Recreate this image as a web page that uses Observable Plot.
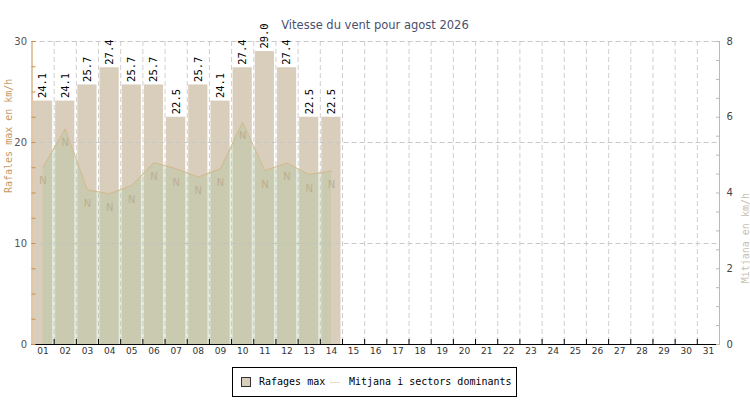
<!DOCTYPE html>
<html>
<head>
<meta charset="utf-8">
<script src="https://cdn.jsdelivr.net/npm/d3@7"></script>
<script src="https://cdn.jsdelivr.net/npm/@observablehq/plot@0.6"></script>
<style>
  body { margin: 0; background: #fff; }
  #wrap { position: relative; width: 750px; height: 400px; overflow: hidden; background: #fff; }
  #chart { position: absolute; left: 0; top: 0; }
  #title { position: absolute; left: 0; top: 18px; width: 750px; text-align: center;
           font: 11.5px "DejaVu Sans", sans-serif; color: #4a5070; }
  #legend { position: absolute; left: 232px; top: 367px; width: 285px; height: 30px;
            border: 1px solid #000; box-sizing: border-box; background: #fff;
            font: 10px "DejaVu Sans Mono", monospace; color: #000; }
  #legend .sw { position: absolute; left: 8px; top: 9px; width: 10px; height: 10px;
                box-sizing: border-box; background: #d9cdbb; border: 1px solid #333; }
  #legend .ln { position: absolute; left: 97px; top: 14px; width: 10px; height: 1px; background: #e6dcc2; }
  #legend .t1 { position: absolute; left: 26px; top: 8px; }
  #legend .t2 { position: absolute; left: 116px; top: 8px; }
</style>
</head>
<body>
<div id="wrap">
  <div id="chart"></div>
  <div id="title">Vitesse du vent pour agost 2026</div>
  <div id="legend">
    <span class="sw"></span><span class="t1">Rafages max</span>
    <span class="ln"></span><span class="t2">Mitjana i sectors dominants</span>
  </div>
</div>
<script>
// ---- data ----
const days = [1,2,3,4,5,6,7,8,9,10,11,12,13,14,15,16,17,18,19,20,21,22,23,24,25,26,27,28,29,30,31];
const dayLabels = ["01","02","03","04","05","06","07","08","09","10","11","12","13","14","15","16",
                   "17","18","19","20","21","22","23","24","25","26","27","28","29","30","31"];
const gusts = [24.1, 24.1, 25.7, 27.4, 25.7, 25.7, 22.5, 25.7, 24.1, 27.4, 29.0, 27.4, 22.5, 22.5];
const means = [4.68, 5.69, 4.08, 3.98, 4.20, 4.80, 4.64, 4.42, 4.64, 5.87, 4.59, 4.79, 4.49, 4.58];
const sectors = ["N","N","N","N","N","N","N","N","N","N","N","N","N","N"];
const leftTicks = [0, 10, 20, 30];
const leftMinorTicks = [0, 2.5, 5, 7.5, 10, 12.5, 15, 17.5, 20, 22.5, 25, 27.5, 30];
const rightTicks = [0, 2, 4, 6, 8];
const rightMinorTicks = [0, 0.5, 1, 1.5, 2, 2.5, 3, 3.5, 4, 4.5, 5, 5.5, 6, 6.5, 7, 7.5, 8];
const leftMax = 30, rightMax = 8;
const k = leftMax / rightMax; // right axis -> left axis units

const barData = gusts.map((g, i) => ({day: days[i], gust: g}));
const meanData = means.map((m, i) => ({day: days[i], mean: m, sector: sectors[i]}));
const bounds = days.slice(1).map(d => d - 0.5); // interior day boundaries

const mono = "DejaVu Sans Mono, monospace";
const sans = "DejaVu Sans, sans-serif";

const chart = Plot.plot({
  width: 750,
  height: 364,
  marginLeft: 31.5,
  marginRight: 31,
  marginTop: 41,
  marginBottom: 20,
  style: {background: "transparent", overflow: "visible"},
  x: {type: "linear", domain: [0.5, 31.5]},
  y: {domain: [0, leftMax]},
  marks: [
    Plot.ruleX(bounds, {stroke: "#cfcfcf", strokeDasharray: "5,3"}),
    Plot.rectY(barData, {x1: d => d.day - 0.5, x2: d => d.day + 0.5, y: "gust",
                         fill: "#d9cdbb", insetLeft: 1.5, insetRight: 1.5}),
    Plot.ruleY([10, 20, 30], {stroke: "#c8c8c8", strokeDasharray: "5,3"}),
    Plot.areaY(meanData, {x: "day", y: d => d.mean * k, fill: "#a9c397", fillOpacity: 0.32}),
    Plot.lineY(meanData, {x: "day", y: d => d.mean * k, stroke: "#d6b98c", strokeWidth: 1}),
    Plot.text(meanData, {x: "day", y: d => d.mean * k, text: "sector", dy: 14,
                         fill: "#bcae90", fontSize: 10, fontFamily: sans}),
    Plot.text(barData, {x: "day", y: "gust", text: d => d.gust.toFixed(1), rotate: -90,
                        textAnchor: "start", dy: -3, fill: "#000", fontSize: 10.5, fontFamily: mono}),
    Plot.ruleY([0], {stroke: "#000"}),
    Plot.ruleX([0.5], {stroke: "#c8904c"}),
    Plot.ruleX([31.5], {stroke: "#c0b8a8"}),
    // left axis
    Plot.axisY(leftMinorTicks, {anchor: "left", tickSize: 4, dx: 4, tickFormat: () => "",
                                stroke: "#c8904c", label: null}),
    Plot.axisY(leftTicks, {anchor: "left", tickSize: 0, tickPadding: 5, fill: "#555",
                           fontSize: 10, fontFamily: sans, label: null}),
    // right axis
    Plot.axisY(rightMinorTicks.map(v => v * k), {anchor: "right", tickSize: 4, dx: -4,
                                tickFormat: () => "", stroke: "#c0b8a8", label: null}),
    Plot.axisY(rightTicks.map(v => v * k), {anchor: "right", tickSize: 0, tickPadding: 7,
                           tickFormat: d => String(Math.round(d / k)), fill: "#444",
                           fontSize: 10, fontFamily: sans, label: null}),
    // bottom axis
    Plot.axisX(bounds, {anchor: "bottom", tickSize: 5, dy: -5, tickFormat: () => "",
                        stroke: "#000", label: null}),
    Plot.axisX(days, {anchor: "bottom", tickSize: 0, tickPadding: 3,
                      tickFormat: d => dayLabels[d - 1], fill: "#333",
                      fontSize: 9, fontFamily: sans, label: null}),
    // axis titles
    Plot.text(["Rafales max en km/h"], {frameAnchor: "left", rotate: -90, dx: -23.5,
                      fill: "#c89a64", fontSize: 10, fontFamily: mono}),
    Plot.text(["Mitjana en km/h"], {frameAnchor: "right", rotate: -90, dx: 26,
                      fill: "#c8c0b0", fontSize: 10, fontFamily: mono})
  ]
});
document.getElementById("chart").appendChild(chart);
</script>
</body>
</html>
